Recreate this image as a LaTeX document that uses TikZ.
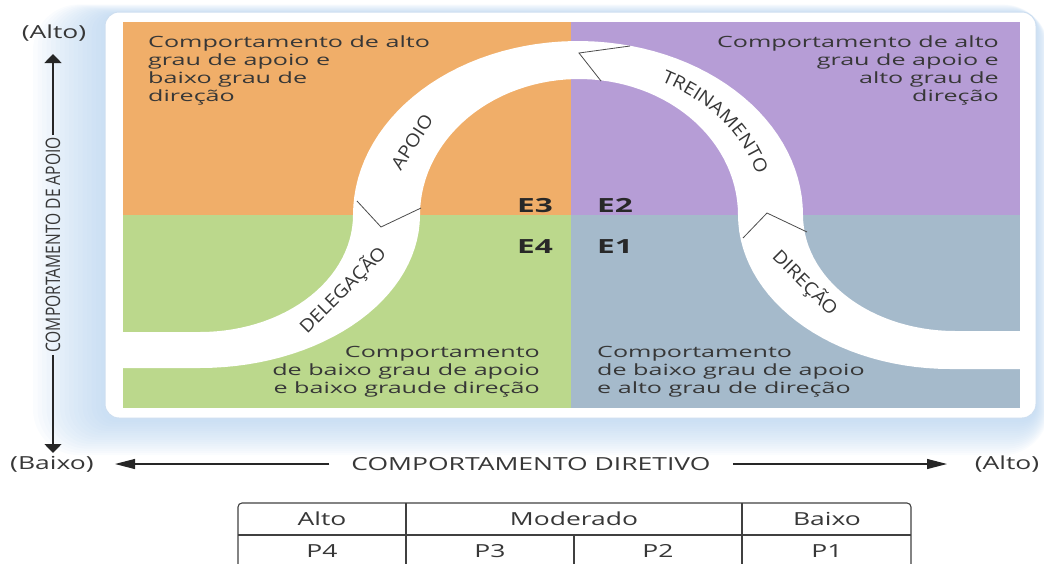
\documentclass[tikz,border=0pt]{standalone}
\usepackage{fontspec}
\setmainfont{Open Sans}
\newfontfamily\quadfont[FakeStretch=1.62]{Open Sans}
\newfontfamily\axisfont[FakeStretch=1.47]{Open Sans}
\newfontfamily\vaxisfont[FakeStretch=0.78]{Open Sans}
\newfontfamily\bandfont[FakeStretch=1.1]{Open Sans}
\usetikzlibrary{arrows.meta,decorations.text}
\definecolor{qorange}{RGB}{240,174,105}
\definecolor{qpurple}{RGB}{182,157,214}
\definecolor{qgreen}{RGB}{187,216,140}
\definecolor{qblue}{RGB}{165,186,203}
\definecolor{txt}{RGB}{55,55,55}
\definecolor{etxt}{RGB}{40,40,40}
\definecolor{glow}{RGB}{170,203,236}
\definecolor{cardline}{RGB}{205,222,240}
\begin{document}
\begin{tikzpicture}[x=1pt,y=-1pt,
  qtext/.style={font=\quadfont\fontsize{15.5}{17.8}\selectfont, text=txt, inner sep=0pt},
  elabel/.style={font=\quadfont\bfseries\fontsize{19.5}{20}\selectfont, text=etxt, inner sep=0pt, anchor=base west},
  axlabel/.style={font=\axisfont\fontsize{18}{20}\selectfont, text=txt},
  bandlabel/.style={font=\bandfont\fontsize{18}{18}\selectfont, text=txt, inner sep=0pt},
  varrow/.style={draw=black!85, line width=1.6pt, -{Triangle[length=9pt,width=17pt]}},
  harrow/.style={draw=black!85, line width=1.1pt, -{Triangle[length=20pt,width=10pt]}},
  chev/.style={draw=black!70, line width=0.8pt},
  tbl/.style={draw=black!75, line width=1.1pt},
]
\useasboundingbox (0,0) rectangle (1044,563);
\clip (0,0) rectangle (1044,563);
% glow
\foreach \e [evaluate=\e as \rr using 14+2*\e] in {1,...,16}
  \fill[glow, opacity=0.055, rounded corners=\rr pt] (105-4.5*\e, 14-0.6*\e) rectangle (1036+0.8*\e, 420+2.2*\e);
% card
\filldraw[fill=white, draw=cardline, line width=1pt, rounded corners=14pt] (105,12) rectangle (1036,418);
% quadrants
\fill[qorange] (123,22) rectangle (571,215);
\fill[qpurple] (571,22) rectangle (1020,215);
\fill[qgreen] (123,215) rectangle (571,408);
\fill[qblue] (571,215) rectangle (1020,408);
% band
\fill[white] (123,332) -- (200,332)
 -- plot[domain=90:0, samples=30, variable=\t] ({200+153*cos(\t)},{215+117*sin(\t)})
 -- plot[domain=180:360, samples=60, variable=\t] ({578+225*cos(\t)},{215+174*sin(\t)})
 -- plot[domain=180:90, samples=30, variable=\t] ({955+152*cos(\t)},{215+116*sin(\t)})
 -- (1020,331) -- (1020,369) -- (950,369)
 -- plot[domain=90:180, samples=30, variable=\t] ({950+212*cos(\t)},{215+154*sin(\t)})
 -- plot[domain=360:180, samples=60, variable=\t] ({579+159*cos(\t)},{215+136*sin(\t)})
 -- plot[domain=0:90, samples=30, variable=\t] ({200+220*cos(\t)},{215+153*sin(\t)})
 -- (123,368) -- cycle;
% chevrons
\draw[chev] (630,46) -- (579,53) -- (601,81);
\draw[chev] (357,201) -- (381,227) -- (421,208);
\draw[chev] (743,238) -- (767,213) -- (807,232);
% band labels
\node[bandlabel, rotate=57] (apoio) at (412,142) {APOIO};
\node[bandlabel, rotate=45] (deleg) at (343,290) {DELEGAÇÃO};
\node[bandlabel, rotate=-45] (direc) at (805,283) {DIREÇÃO};
\path[decorate, decoration={text along path, text align=center,
  text={|\bandfont\fontsize{18}{18}\selectfont\color{txt}|TREINAMENTO}}]
  plot[domain=290:352, samples=40, variable=\t] ({578+186*cos(\t)},{215+149*sin(\t)});
% quadrant texts
\node[qtext, anchor=north west, align=left] (tl) at (148,36) {Comportamento de alto\\grau de apoio e\\baixo grau de\\direção};
\node[qtext, anchor=north east, align=right] (tr) at (999,36) {Comportamento de alto\\grau de apoio e\\alto grau de\\direção};
\node[qtext, anchor=north east, align=right] (bl) at (540,346) {Comportamento\\de baixo grau de apoio\\e baixo graude direção};
\node[qtext, anchor=north west, align=left] (br) at (597,346) {Comportamento\\de baixo grau de apoio\\e alto grau de direção};
% E labels
\node[elabel] (e3) at (517,212) {E3};
\node[elabel] (e2) at (597,212) {E2};
\node[elabel] (e4) at (517,253) {E4};
\node[elabel] (e1) at (597,253) {E1};
% vertical axis
\node[axlabel] (valto) at (54,33) {(Alto)};
\node[axlabel, font=\vaxisfont\fontsize{20}{22}\selectfont, rotate=90, inner sep=2pt] (vlab) at (53,245) {COMPORTAMENTO DE APOIO};
\coordinate (vtop) at (53,54);
\coordinate (vbot) at (53,453);
\draw[varrow] (vlab.east) -- (vtop);
\draw[varrow] (vlab.west) -- (vbot);
% horizontal axis
\node[axlabel] (hbaixo) at (52,464) {(Baixo)};
\node[axlabel] (halto) at (1007,464) {(Alto)};
\node[axlabel, inner xsep=22pt] (hlab) at (531,464) {COMPORTAMENTO DIRETIVO};
\coordinate (hl) at (115,464);
\coordinate (hr) at (947,464);
\draw[harrow] (hlab.west) -- (hl);
\draw[harrow] (hlab.east) -- (hr);
% table
\draw[tbl, rounded corners=4pt] (238,503) rectangle (911,600);
\draw[tbl] (238,535) -- (911,535);
\draw[tbl] (406,503) -- (406,600);
\draw[tbl] (742,503) -- (742,600);
\draw[tbl] (574,535) -- (574,600);
\node[axlabel] (t1) at (322,519) {Alto};
\node[axlabel] (t2) at (574,519) {Moderado};
\node[axlabel] (t3) at (827,519) {Baixo};
\node[axlabel] (p4) at (322,551) {P4};
\node[axlabel] (p3) at (490,551) {P3};
\node[axlabel] (p2) at (658,551) {P2};
\node[axlabel] (p1) at (827,551) {P1};
\end{tikzpicture}
\end{document}
